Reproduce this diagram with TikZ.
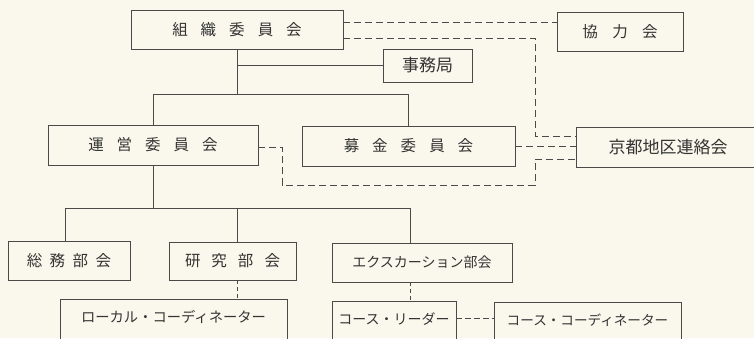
\documentclass[tikz,border=0pt]{standalone}
\usepackage{fontspec}
\newfontfamily\jp{Noto Sans CJK JP}
\definecolor{bgc}{HTML}{FAF8EC}
\definecolor{linec}{HTML}{4A4A4A}
\definecolor{textc}{HTML}{333333}
\newcommand{\rz}[1]{\raisebox{7pt}[\height][\depth]{#1}}
\begin{document}
\begin{tikzpicture}[x=1pt,y=-1pt,
  box/.style={draw=linec, line width=0.9pt, rectangle, inner sep=0pt, text=textc, font=\jp\fontsize{14}{16}\selectfont},
  big/.style={font=\jp\fontsize{15.5}{18}\selectfont},
  conn/.style={draw=linec, line width=0.9pt},
  dsh/.style={conn, dash pattern=on 7pt off 4pt}]
\useasboundingbox (0,0) rectangle (754,338);
\clip (0,0) rectangle (754,338);
\fill[bgc] (0,0) rectangle (754,338);

% top level
\node[box, big, minimum width=212pt, minimum height=39pt] (soshiki) at (237,29.5) {組\hspace{13pt}織\hspace{13pt}委\hspace{13pt}員\hspace{13pt}会};
\node[box, big, minimum width=126pt, minimum height=39pt] (kyoryoku) at (620,31.5) {協\hspace{14.5pt}力\hspace{14.5pt}会};
\node[box, minimum width=89pt, minimum height=33pt, font=\jp\fontsize{17}{19}\selectfont] (jimu) at (427.5,65.5) {事務局};
\node[box, big, minimum width=210pt, minimum height=40pt] (unei) at (153,145) {運\hspace{13pt}営\hspace{13pt}委\hspace{13pt}員\hspace{13pt}会};
\node[box, big, minimum width=213pt, minimum height=40pt] (bokin) at (408.5,146) {募\hspace{13pt}金\hspace{13pt}委\hspace{13pt}員\hspace{13pt}会};
\node[box, minimum width=184pt, minimum height=40pt, font=\jp\fontsize{17}{19}\selectfont] (kyoto) at (668,147) {京都地区連絡会};

% sections
\node[box, big, minimum width=122pt, minimum height=39pt] (somu) at (69,260.5) {総\hspace{7.5pt}務\hspace{7.5pt}部\hspace{7.5pt}会};
\node[box, big, minimum width=127pt, minimum height=38pt] (kenkyu) at (232.5,261) {研\hspace{11pt}究\hspace{11pt}部\hspace{11pt}会};
\node[box, minimum width=180pt, minimum height=39pt] (excursion) at (422,262.5) {エクスカーション部会};

% bottom (cut off by the page edge)
\node[box, minimum width=227pt, minimum height=50pt, font=\jp\fontsize{14.3}{16}\selectfont] (local) at (173.5,324) {\rz{ローカル・コーディネーター}};
\node[box, minimum width=124pt, minimum height=50pt] (leader) at (394,326) {\rz{コース・リーダー}};
\node[box, minimum width=187pt, minimum height=50pt, font=\jp\fontsize{13.6}{16}\selectfont] (coord) at (587.5,327) {\rz{コース・コーディネーター}};

% solid tree, upper part
\coordinate (bar) at (0,94);
\draw[conn] (soshiki.south) -- (soshiki.south |- bar);
\draw[conn] (soshiki.south |- jimu.west) -- (jimu.west);
\draw[conn] (unei.north) |- (bar -| bokin.north) -- (bokin.north);

% dashed links, upper part
\coordinate (col) at (535,0);
\draw[dsh] ([yshift=7.5pt]soshiki.east) -- ([yshift=7.5pt]soshiki.east -| kyoryoku.west);
\draw[dsh] ([yshift=-8.5pt]soshiki.east) -| ([yshift=11pt]kyoto.west -| col) -- ([yshift=11pt]kyoto.west);
\draw[dsh] (bokin.east) -- (bokin.east -| kyoto.west);
\coordinate (lp) at (282,185);
\draw[dsh] ([yshift=-2pt]unei.east) -| (lp) -| ([yshift=-12pt]kyoto.west -| col) -- ([yshift=-12pt]kyoto.west);

% solid tree, lower part
\coordinate (d1) at (65,208);
\coordinate (d2) at (237,208);
\coordinate (d3) at (410,208);
\draw[conn] (unei.south) -- (unei.south |- d1);
\draw[conn] (d1) -- (d3);
\draw[conn] (d1) -- (d1 |- somu.north);
\draw[conn] (d2) -- (d2 |- kenkyu.north);
\draw[conn] (d3) -- (d3 |- excursion.north);

% dashed links, lower part
\draw[dsh, dash pattern=on 4pt off 3pt] (d2 |- kenkyu.south) -- (d2 |- local.north);
\draw[dsh, dash pattern=on 4pt off 3pt] (d3 |- excursion.south) -- (d3 |- leader.north);
\coordinate (lr) at (0,318);
\draw[dsh, dash pattern=on 6pt off 3pt] (lr -| leader.east) -- (lr -| coord.west);
\end{tikzpicture}
\end{document}
